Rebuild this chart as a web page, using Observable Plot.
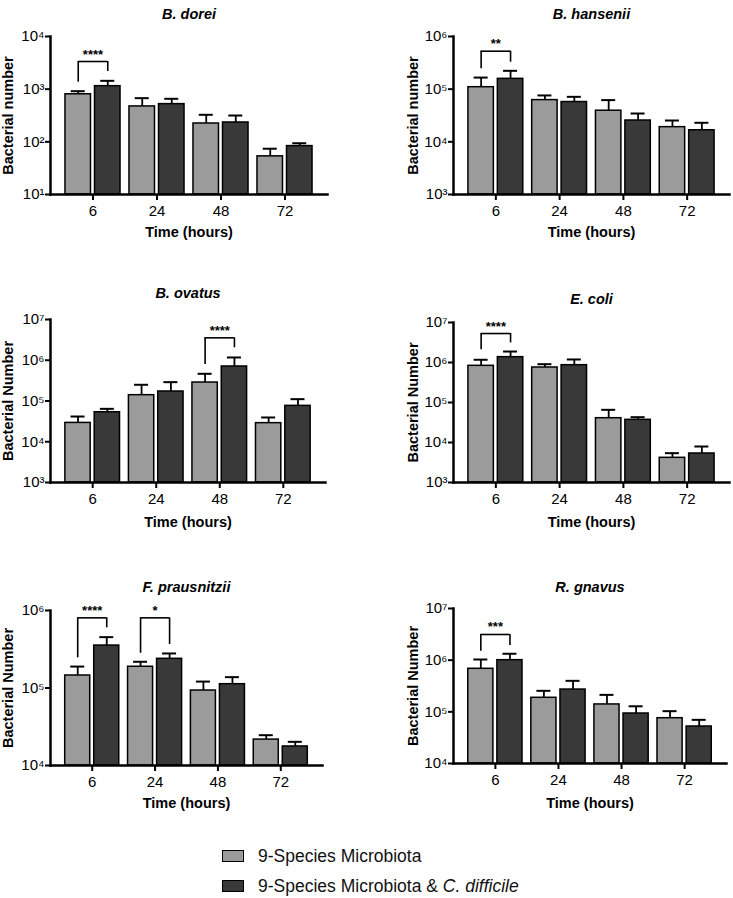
<!DOCTYPE html>
<html><head><meta charset="utf-8">
<script src="https://cdn.jsdelivr.net/npm/d3@7"></script>
<script src="https://cdn.jsdelivr.net/npm/@observablehq/plot@0.6"></script>
<style>
body{margin:0;background:#fff;font-family:"Liberation Sans",Arial,sans-serif;}
#wrap{position:relative;width:733px;height:898px;overflow:hidden;}
.panel{position:absolute;}
.legend{position:absolute;left:222px;top:841px;font-size:17.5px;color:#111;}
.legend .row{display:flex;align-items:center;height:30px;}
.sw{width:20px;height:10px;border:1.6px solid #000;margin-right:14px;}
</style></head><body><div id="wrap"></div>
<script>
// ---- data ----
const times = ["6","24","48","72"];
const groups = ["9-Species Microbiota", "9-Species Microbiota & C. difficile"];
const species = ["B. dorei","B. hansenii","B. ovatus","E. coli","F. prausnitzii","R. gnavus"];
const yLabels = ["Bacterial number","Bacterial number","Bacterial Number","Bacterial Number","Bacterial Number","Bacterial Number"];
const yDomains = [[1e1,1e4],[1e3,1e6],[1e3,1e7],[1e3,1e7],[1e4,1e6],[1e4,1e7]];

// means and upper error (SD) per species: control (light) and with C. difficile (dark)
const doreiCtrl = [800, 470, 223, 53];        const doreiCtrlErr = [115, 205, 103, 21];
const doreiCdiff = [1140, 520, 233, 83];      const doreiCdiffErr = [300, 136, 83, 11];
const hanseniiCtrl = [109000, 62000, 39000, 19000];   const hanseniiCtrlErr = [57000, 14000, 23000, 6400];
const hanseniiCdiff = [157000, 57000, 25400, 16600];  const hanseniiCdiffErr = [66000, 14500, 9100, 6400];
const ovatusCtrl = [29000, 139000, 284000, 28600];    const ovatusCtrlErr = [12600, 111000, 181000, 10800];
const ovatusCdiff = [53000, 171000, 703000, 76000];   const ovatusCdiffErr = [11200, 119000, 467000, 35000];
const coliCtrl = [826000, 750000, 40500, 4140];       const coliCtrlErr = [344000, 157000, 25100, 1270];
const coliCdiff = [1360000, 857000, 36900, 5310];     const coliCdiffErr = [520000, 333000, 6000, 2630];
const prausCtrl = [145000, 188000, 92800, 21600];     const prausCtrlErr = [44000, 30000, 28200, 3000];
const prausCdiff = [353000, 238000, 112000, 17600];   const prausCdiffErr = [100000, 41000, 26000, 2600];
const gnavusCtrl = [681000, 187000, 139000, 75300];   const gnavusCtrlErr = [349000, 68000, 74000, 27700];
const gnavusCdiff = [1000000, 270000, 92800, 52000];  const gnavusCdiffErr = [330000, 128000, 35200, 18000];

const ctrlMeans = [doreiCtrl, hanseniiCtrl, ovatusCtrl, coliCtrl, prausCtrl, gnavusCtrl];
const ctrlErrs = [doreiCtrlErr, hanseniiCtrlErr, ovatusCtrlErr, coliCtrlErr, prausCtrlErr, gnavusCtrlErr];
const cdiffMeans = [doreiCdiff, hanseniiCdiff, ovatusCdiff, coliCdiff, prausCdiff, gnavusCdiff];
const cdiffErrs = [doreiCdiffErr, hanseniiCdiffErr, ovatusCdiffErr, coliCdiffErr, prausCdiffErr, gnavusCdiffErr];

// significance brackets: panel, time, label, bracket top, left end, right end
const sigPanel = [0, 1, 2, 3, 4, 4, 5];
const sigTime  = ["6", "6", "48", "6", "6", "24", "6"];
const sigLabel = ["****", "**", "****", "****", "****", "*", "***"];
const sigTop   = [3350, 526000, 3550000, 5300000, 804000, 804000, 3140000];
const sigLeft  = [1356, 243000, 787000, 2070000, 245000, 281000, 1490000];
const sigRight = [2163, 325000, 2020000, 3100000, 598000, 364000, 1920000];

// ---- layout (positions / styles) ----
const layout = [
  {left:0,   top:0,   w:366, h:250, ml:50, mr:39, mt:36, mb:56, tdy:-28, ldx:-42, xdy:42},
  {left:366, top:0,   w:367, h:250, ml:87, mr:4,  mt:36, mb:56, tdy:-28, ldx:-40, xdy:42},
  {left:0,   top:260, w:366, h:280, ml:50, mr:41, mt:59, mb:58, tdy:-32, ldx:-42, xdy:44},
  {left:366, top:260, w:367, h:280, ml:87, mr:4,  mt:62, mb:58, tdy:-29, ldx:-40, xdy:44},
  {left:0,   top:540, w:366, h:290, ml:50, mr:44, mt:70, mb:65, tdy:-29, ldx:-42, xdy:42},
  {left:366, top:540, w:367, h:290, ml:87, mr:7,  mt:68, mb:67, tdy:-27, ldx:-40, xdy:44}
];
const LIGHT = "#9b9b9b", DARK = "#393939";
const PI = 0.14, PO = 0.234;
const supDigits = {"0":"⁰","1":"¹","2":"²","3":"³","4":"⁴","5":"⁵","6":"⁶","7":"⁷","8":"⁸","9":"⁹"};
const fmt = v => "10" + String(Math.round(Math.log10(v))).split("").map(c => supDigits[c]).join("");

const wrap = document.getElementById("wrap");

species.forEach((name, i) => {
  const L = layout[i];
  const [ymin, ymax] = yDomains[i];
  const A = times.map((t, j) => ({time: t, lo: ymin, mean: ctrlMeans[i][j], hi: ctrlMeans[i][j] + ctrlErrs[i][j]}));
  const B = times.map((t, j) => ({time: t, lo: ymin, mean: cdiffMeans[i][j], hi: cdiffMeans[i][j] + cdiffErrs[i][j]}));
  const S = sigPanel.map((p, k) => ({p, time: sigTime[k], label: sigLabel[k], top: sigTop[k], left: sigLeft[k], right: sigRight[k]})).filter(d => d.p === i);
  const range = L.w - L.ml - L.mr;
  const step = range / (4 - PI + 2 * PO);
  const bw = step * (1 - PI);
  const half = bw / 2 + 2;
  const off = bw / 4 + 1;
  const capHalf = 7;
  const decades = d3.range(Math.log10(ymin), Math.log10(ymax) + 1).map(e => Math.pow(10, e));

  const chart = Plot.plot({
    width: L.w, height: L.h,
    marginLeft: L.ml, marginRight: L.mr, marginTop: L.mt, marginBottom: L.mb,
    style: {fontFamily: "'Liberation Sans', Arial, sans-serif", color: "#000", background: "transparent", overflow: "visible"},
    x: {type: "band", domain: times, paddingInner: PI, paddingOuter: PO, round: false},
    y: {type: "log", domain: [ymin, ymax]},
    marks: [
      Plot.ruleX(A, {x: "time", y1: "mean", y2: "hi", dx: -off, stroke: "#000", strokeWidth: 1.8}),
      Plot.ruleX(B, {x: "time", y1: "mean", y2: "hi", dx: off, stroke: "#000", strokeWidth: 1.8}),
      Plot.barY(A, {x: "time", y1: "lo", y2: "mean", insetRight: half, fill: LIGHT, stroke: "#000", strokeWidth: 1.5}),
      Plot.barY(B, {x: "time", y1: "lo", y2: "mean", insetLeft: half, fill: DARK, stroke: "#000", strokeWidth: 1.5}),
      Plot.tickY(A, {x: "time", y: "hi", insetLeft: bw / 4 - 1 - capHalf, insetRight: bw - (bw / 4 - 1 + capHalf), stroke: "#000", strokeWidth: 2}),
      Plot.tickY(B, {x: "time", y: "hi", insetLeft: bw - (bw / 4 - 1 + capHalf), insetRight: bw / 4 - 1 - capHalf, stroke: "#000", strokeWidth: 2}),
      // significance brackets
      Plot.ruleX(S, {x: "time", y1: "left", y2: "top", dx: -off, stroke: "#000", strokeWidth: 1.6}),
      Plot.ruleX(S, {x: "time", y1: "right", y2: "top", dx: off, stroke: "#000", strokeWidth: 1.6}),
      Plot.tickY(S, {x: "time", y: "top", insetLeft: bw / 4 - 1, insetRight: bw / 4 - 1, stroke: "#000", strokeWidth: 1.6}),
      Plot.text(S, {x: "time", y: "top", text: "label", dy: -3, lineAnchor: "bottom", fontSize: 13, fontWeight: "bold", fill: "#000"}),
      // axes
      Plot.axisY(decades, {tickFormat: fmt, tickSize: 5, tickPadding: 1, fontSize: 15, strokeWidth: 2, label: null}),
      Plot.axisX({tickSize: 6, tickPadding: 5, fontSize: 15, strokeWidth: 2, label: null}),
      Plot.frame({anchor: "left", stroke: "#000", strokeWidth: 2.5}),
      Plot.frame({anchor: "bottom", stroke: "#000", strokeWidth: 2.5}),
      // titles and axis labels
      Plot.text([name], {text: d => d, frameAnchor: "top", textAnchor: "middle", dy: L.tdy, fontSize: 14.5, fontWeight: "bold", fontStyle: "italic", fill: "#000"}),
      Plot.text([yLabels[i]], {text: d => d, frameAnchor: "left", textAnchor: "middle", lineAnchor: "middle", rotate: -90, dx: L.ldx, fontSize: 14.5, fontWeight: "bold", fill: "#000"}),
      Plot.text(["Time (hours)"], {text: d => d, frameAnchor: "bottom", textAnchor: "middle", dy: L.xdy, fontSize: 14.5, fontWeight: "bold", fill: "#000"})
    ]
  });
  const div = document.createElement("div");
  div.className = "panel";
  div.style.left = L.left + "px";
  div.style.top = L.top + "px";
  div.appendChild(chart);
  wrap.appendChild(div);
});

// legend
const legend = document.createElement("div");
legend.className = "legend";
const legendFills = [LIGHT, DARK];
groups.forEach((g, k) => {
  const row = document.createElement("div");
  row.className = "row";
  const sw = document.createElement("div");
  sw.className = "sw";
  sw.style.background = legendFills[k];
  row.appendChild(sw);
  const label = document.createElement("span");
  if (g.includes("C. difficile")) {
    label.innerHTML = g.replace("C. difficile", "<i>C. difficile</i>");
  } else {
    label.textContent = g;
  }
  row.appendChild(label);
  legend.appendChild(row);
});
wrap.appendChild(legend);
</script>
</body></html>
